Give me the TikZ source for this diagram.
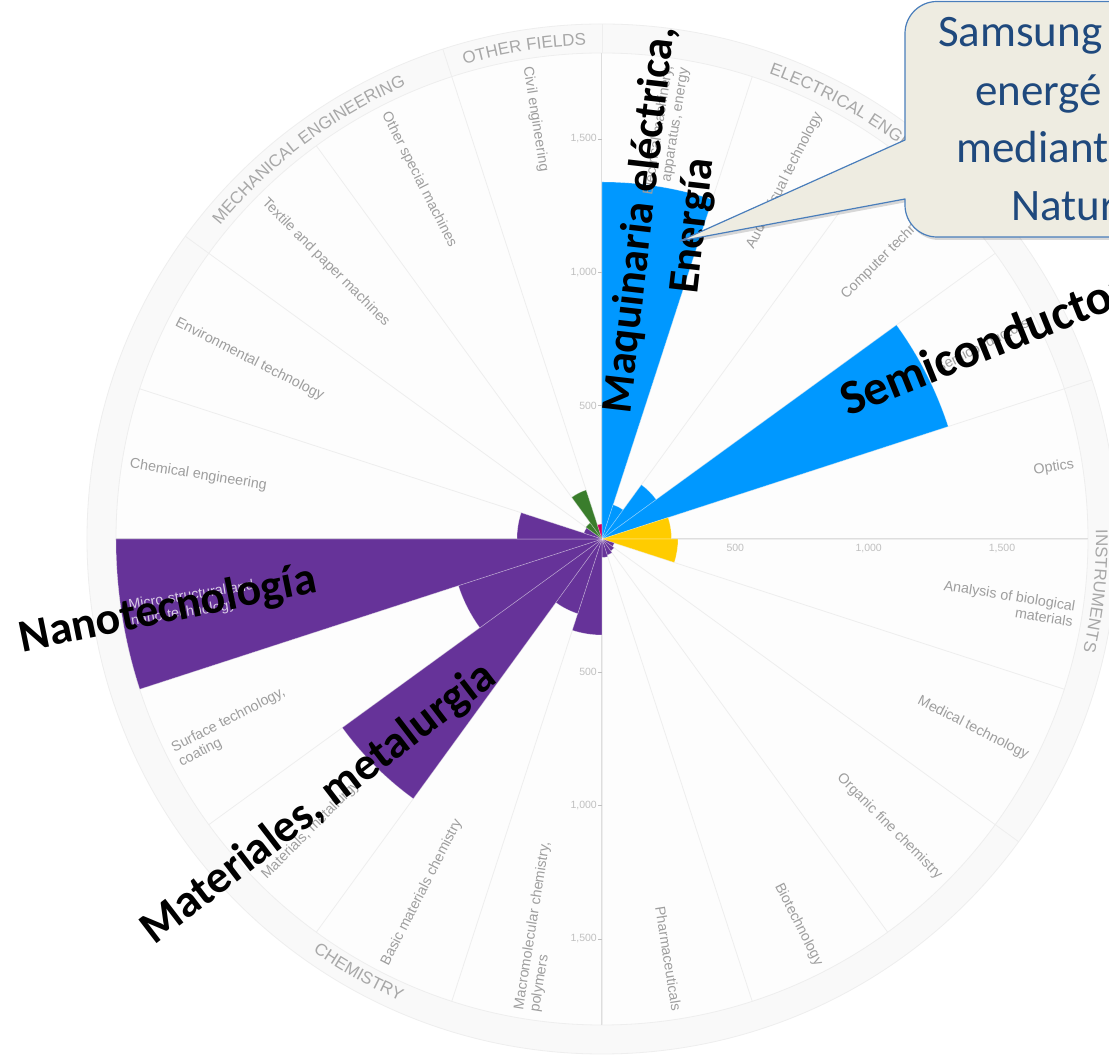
\documentclass[tikz,border=0pt]{standalone}
\usepackage{fontspec}
\setmainfont{Liberation Sans}
\newfontfamily\calfont{Carlito}
\usetikzlibrary{decorations.text}
\definecolor{cblue}{RGB}{0,152,255}
\definecolor{cyellow}{RGB}{255,204,0}
\definecolor{cpurple}{RGB}{102,51,153}
\definecolor{cgreen}{RGB}{58,125,44}
\definecolor{cred}{RGB}{204,0,102}
\definecolor{gridc}{RGB}{238,238,238}
\definecolor{axisc}{RGB}{222,222,222}
\definecolor{ringc}{RGB}{249,249,249}
\definecolor{diskc}{RGB}{253,253,253}
\definecolor{labc}{RGB}{158,158,158}
\definecolor{catc}{RGB}{168,168,168}
\definecolor{tickc}{RGB}{192,192,192}
\definecolor{boxfill}{RGB}{238,236,225}
\definecolor{boxline}{RGB}{74,126,187}
\definecolor{boxtext}{RGB}{31,73,125}
\newcommand\catfont{\fontsize{17}{17}\selectfont}
\begin{document}
\begin{tikzpicture}[x=1pt,y=1pt,
  seclabel/.style={font=\fontsize{14.3}{16}\selectfont, text=labc, inner sep=0pt},
  biglabel/.style={font=\calfont\bfseries\fontsize{46}{54}\selectfont, text=black, inner sep=0pt},
  ticklabel/.style={font=\fontsize{10.5}{12}\selectfont, text=tickc, inner sep=0pt},
  calltext/.style={font=\calfont\fontsize{45}{58}\selectfont, text=boxtext, inner sep=0pt},
  gridline/.style={draw=gridc, line width=0.8pt},
  axisline/.style={draw=axisc, line width=1pt},
  barstyle/.style={draw=white, draw opacity=0.35, line width=0.6pt},
  catlabel/.style={decorate, decoration={text along path, text align=center, text color=catc}},
  callout/.style={fill=boxfill, draw=boxline, line width=1.2pt, line join=round},
]
\useasboundingbox (-602,-517) rectangle (507,539);
\fill[white] (-602,-517) rectangle (507,539);
\begin{scope}
\clip (-602,-517) rectangle (507,539);
% ring and disk
\fill[ringc, draw=gridc, line width=0.8pt] (0,0) circle[radius=515];
\fill[diskc, draw=gridc, line width=0.8pt] (0,0) circle[radius=486];
\foreach \g in {0,72,126,306,342} \draw[gridline] ({90-\g}:486) -- ({90-\g}:515);
\foreach \k in {1,...,19} \draw[gridline] (0,0) -- ({90-18*\k}:486);
\foreach \ang in {90,0,-90,180} \draw[axisline] (0,0) -- (\ang:486);
% bars
\foreach \k/\rad/\col in {0/357/cblue,1/36/cblue,2/67/cblue,3/364/cblue,4/69.5/cyellow,5/76/cyellow,6/13/cpurple,7/15/cpurple,8/17/cpurple,9/18.5/cpurple,10/96/cpurple,11/78.5/cpurple,12/321/cpurple,13/151/cpurple,14/486/cpurple,15/85/cpurple,16/19/cpurple,17/20/cgreen,18/51.5/cgreen,19/15/cred}
  \filldraw[barstyle, fill=\col] (0,0) -- ({90-18*\k}:\rad) arc[start angle={90-18*\k}, end angle={72-18*\k}, radius=\rad] -- cycle;
% axis ticks and labels
\foreach \v/\lab [count=\n] in {133.33/500, 266.67/{1,000}, 400/{1,500}} {
  \draw[draw=tickc, line width=0.6pt] (-4,\v) -- (0,\v);
  \node[ticklabel, anchor=east] (tu\n) at (-5,\v) {\lab};
  \draw[draw=tickc, line width=0.6pt] (-4,-\v) -- (0,-\v);
  \node[ticklabel, anchor=east] (td\n) at (-5,-\v) {\lab};
  \node[ticklabel, anchor=north] (tr\n) at (\v,-5) {\lab};
}
% sector labels, right half
\foreach \k/\txt in {0/{Electrical machinery,\\apparatus, energy},1/{Audio-visual technology},2/{Computer technology},3/{Semiconductors},4/{Optics},5/{Analysis of biological\\materials},6/{Medical technology},7/{Organic fine chemistry},8/{Biotechnology},9/{Pharmaceuticals}}
  \node[seclabel, anchor=east, align=right, rotate={81-18*\k}] (sl\k) at ({81-18*\k}:478) {\txt};
% sector labels, left half
\foreach \k/\txt in {10/{Macromolecular chemistry,\\polymers},11/{Basic materials chemistry},12/{Materials, metallurgy},13/{Surface technology,\\coating},15/{Chemical engineering},16/{Environmental technology},17/{Textile and paper machines},18/{Other special machines},19/{Civil engineering}}
  \node[seclabel, anchor=west, align=left, rotate={261-18*\k}] (sl\k) at ({81-18*\k}:478) {\txt};
\node[seclabel, text={rgb,255:red,217;green,204;blue,230}, anchor=west, align=left, rotate={261-18*14}] (sl14) at ({81-18*14}:478) {Micro-structural and\\nano-technology};
% group labels
\path[catlabel, decoration={text={|\catfont|OTHER FIELDS}}] (108:494) arc[start angle=108, end angle=90, radius=494];
\path[catlabel, decoration={text={|\catfont|MECHANICAL ENGINEERING}}] (145:494) arc[start angle=145, end angle=109, radius=494];
\path[catlabel, decoration={text={|\catfont|ELECTRICAL ENGINEERING}}] (87:494) arc[start angle=87, end angle=27, radius=494];
\path[catlabel, decoration={text={|\catfont|INSTRUMENTS}}] (19:494) arc[start angle=19, end angle=-31, radius=494];
\path[catlabel, decoration={text={|\catfont|CHEMISTRY}}] (-149.3:504) arc[start angle=-149.3, end angle=-89.3, radius=504];
% big labels
\node[biglabel, rotate=11.5] (nano) at (-434,-71) {Nanotecnología};
\node[biglabel, rotate=37.5] (mat) at (-283,-265) {Materiales, metalurgia};
\node[biglabel, font=\calfont\bfseries\fontsize{49}{56}\selectfont, rotate=22, anchor=base west] (semi) at (246,122) {Semiconductores};
\node[biglabel, font=\calfont\bfseries\fontsize{44}{53}\selectfont, rotate=83.4, align=center] (maq) at (65,316) {Maquinaria eléctrica,\\Energía};
% callout
\begin{scope}[shift={(2,-3)}]
\fill[black, opacity=0.15] (303,399) -- (78,298) -- (303,340) -- (303,334) arc[start angle=180,end angle=270,radius=32] -- (560,302) -- (560,537.5) -- (335,537.5) arc[start angle=90,end angle=180,radius=32] -- cycle;
\end{scope}
\filldraw[callout] (303,399) -- (78,298) -- (303,340) -- (303,334) arc[start angle=180,end angle=270,radius=32] -- (560,302) -- (560,537.5) -- (335,537.5) arc[start angle=90,end angle=180,radius=32] -- cycle;
\node[calltext, anchor=base west] (c1) at (336,492) {Samsung};
\node[calltext, anchor=base west] (c2) at (373,433) {energé};
\node[calltext, anchor=base west] (c3) at (354,376) {mediant};
\node[calltext, anchor=base west] (c4) at (409,318.5) {Natur};
\end{scope}
\end{tikzpicture}
\end{document}
